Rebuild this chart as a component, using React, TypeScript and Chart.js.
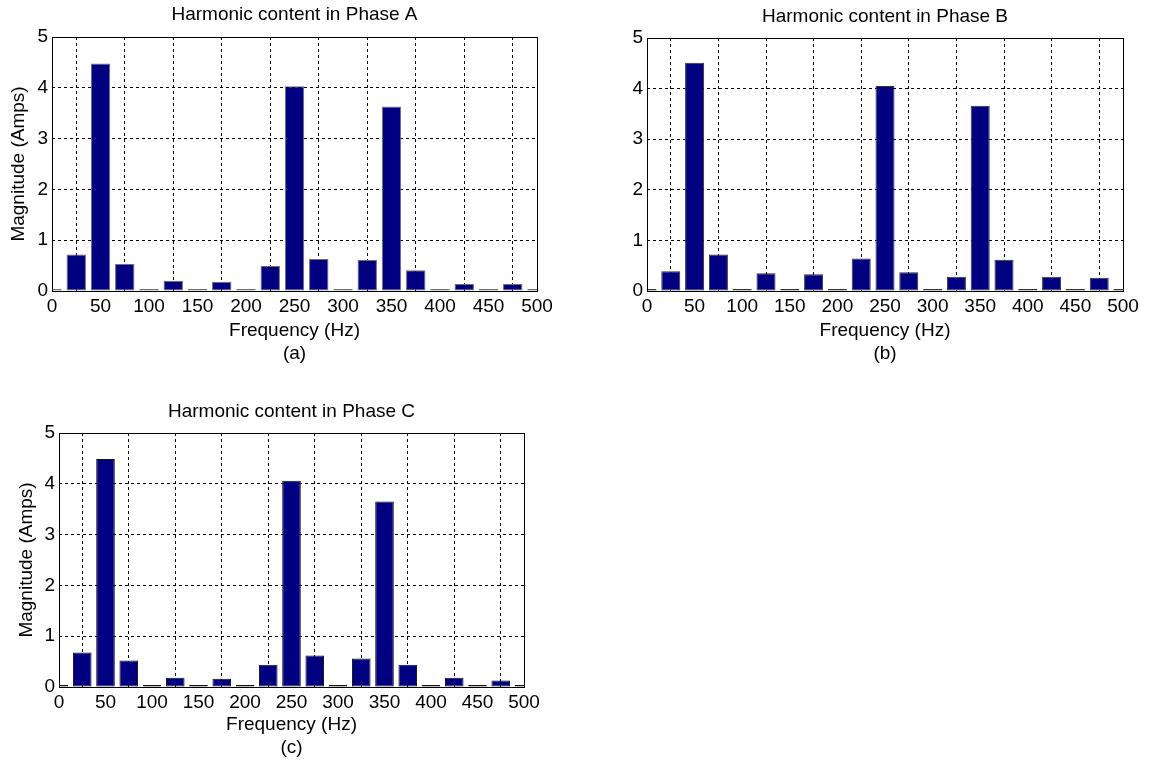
import React, { useEffect, useRef } from 'react';
import { Chart, registerables } from 'chart.js';

Chart.register(...registerables);

// ---- Data ----
const frequencies = [0, 25, 50, 75, 100, 125, 150, 175, 200, 225, 250, 275, 300, 325, 350, 375, 400, 425, 450, 475, 500];
const phaseA = [0.01, 0.72, 4.48, 0.53, 0.01, 0.2, 0.01, 0.18, 0.01, 0.49, 4.03, 0.63, 0.01, 0.61, 3.63, 0.41, 0.01, 0.14, 0.01, 0.14, 0.01];
const phaseB = [0.01, 0.39, 4.51, 0.72, 0.01, 0.35, 0.01, 0.33, 0.01, 0.64, 4.05, 0.37, 0.01, 0.28, 3.66, 0.62, 0.01, 0.28, 0.01, 0.26, 0.01];
const phaseC = [0.01, 0.68, 4.49, 0.52, 0.04, 0.18, 0.01, 0.16, 0.01, 0.44, 4.06, 0.62, 0.01, 0.56, 3.65, 0.44, 0.01, 0.18, 0.01, 0.13, 0.01];
const xTickValues = [0, 50, 100, 150, 200, 250, 300, 350, 400, 450, 500];
const yTickValues = [0, 1, 2, 3, 4, 5];
const titles = ['Harmonic content in Phase A', 'Harmonic content in Phase B', 'Harmonic content in Phase C'];
const captions = ['(a)', '(b)', '(c)'];
const xAxisTitle = 'Frequency (Hz)';
const yAxisTitle = 'Magnitude (Amps)';

const FONT = "'Liberation Sans', Arial, Helvetica, sans-serif";

type PanelCfg = {
  values: number[];
  title: string;
  caption: string;
  cx: number; cy: number; cw: number; ch: number; // canvas rect on page
  pl: number; pt: number; pr: number; pb: number; // plot rect on page
  titleCenter: number; // page y of title center
  captionCenter: number; // page y of caption center
  yTitleCenter: number; // page x of y-title center
  barBorder: string;
};

const panels: PanelCfg[] = [
  { values: phaseA, title: titles[0], caption: captions[0], cx: 0, cy: 0, cw: 580, ch: 375, pl: 52, pt: 37, pr: 537, pb: 291, titleCenter: 15, captionCenter: 353.5, yTitleCenter: 19, barBorder: '#6f6f6f' },
  { values: phaseB, title: titles[1], caption: captions[1], cx: 590, cy: 0, cw: 560, ch: 375, pl: 647, pt: 38, pr: 1123, pb: 291, titleCenter: 17, captionCenter: 353.5, yTitleCenter: 23, barBorder: '#333333' },
  { values: phaseC, title: titles[2], caption: captions[2], cx: 0, cy: 395, cw: 580, ch: 370, pl: 59, pt: 433, pr: 524, pb: 687, titleCenter: 411.7, captionCenter: 748, yTitleCenter: 27, barBorder: '#111111' },
];

const align = (p: number) => Math.round(p - 0.5) + 0.5;

const boxPlugin = {
  id: 'plotBox',
  afterDatasetsDraw(chart: any) {
    const { ctx, chartArea: a } = chart;
    ctx.save();
    ctx.strokeStyle = '#000';
    ctx.lineWidth = 1;
    ctx.setLineDash([]);
    const l = align(a.left), r = align(a.right), t = align(a.top), b = align(a.bottom);
    ctx.strokeRect(l, t, r - l, b - t);
    ctx.restore();
  },
};

function Panel({ cfg }: { cfg: PanelCfg }) {
  const ref = useRef<HTMLCanvasElement | null>(null);
  useEffect(() => {
    if (!ref.current) return;
    const lh = 1.2;
    const fs = 19;
    const half = (fs * lh) / 2;
    const titleTop = cfg.titleCenter - cfg.cy - half;
    const titleBottom = cfg.pt - cfg.cy - titleTop - fs * lh;
    const xTitleBottomPad = cfg.cy + cfg.ch - cfg.captionCenter - half;
    const yTitlePad = cfg.yTitleCenter - cfg.cx - half;
    const chart = new Chart(ref.current, {
      type: 'bar',
      data: {
        datasets: [
          {
            data: frequencies.map((f, i) => ({ x: f, y: cfg.values[i] })),
            backgroundColor: '#000080',
            borderColor: cfg.barBorder,
            borderWidth: 1,
            borderSkipped: false,
            barPercentage: 0.8,
            categoryPercentage: 1,
            minBarLength: 2,
          } as any,
        ],
      },
      options: {
        responsive: false,
        animation: false,
        events: [],
        layout: { padding: { left: 0, top: 0, bottom: 0, right: cfg.cx + cfg.cw - cfg.pr } },
        plugins: {
          legend: { display: false },
          tooltip: { enabled: false },
          title: {
            display: true,
            text: cfg.title,
            fullSize: false,
            color: '#000',
            font: { family: FONT, size: fs, weight: 'normal', lineHeight: lh },
            padding: { top: titleTop, bottom: titleBottom },
          },
        },
        scales: {
          x: {
            type: 'linear',
            min: 0,
            max: 500,
            offset: false,
            afterBuildTicks: (s: any) => {
              s.ticks = xTickValues.map((v) => ({ value: v }));
            },
            afterFit: (s: any) => {
              s.height = cfg.cy + cfg.ch - cfg.pb;
            },
            grid: { color: '#000', lineWidth: 1, drawTicks: false, borderDash: [3, 3] } as any,
            border: { display: false, dash: [3, 3] },
            ticks: {
              color: '#000',
              padding: 4,
              maxRotation: 0,
              autoSkip: false,
              font: { family: FONT, size: fs },
            },
            title: {
              display: true,
              text: [xAxisTitle, cfg.caption],
              color: '#000',
              font: { family: FONT, size: fs, lineHeight: lh },
              padding: { top: 0, bottom: xTitleBottomPad },
            },
          },
          y: {
            type: 'linear',
            min: 0,
            max: 5,
            afterBuildTicks: (s: any) => {
              s.ticks = yTickValues.map((v) => ({ value: v }));
            },
            afterFit: (s: any) => {
              s.width = cfg.pl - cfg.cx;
            },
            grid: { color: '#000', lineWidth: 1, drawTicks: false, borderDash: [3, 3] } as any,
            border: { display: false, dash: [3, 3] },
            ticks: {
              color: '#000',
              padding: 4,
              autoSkip: false,
              font: { family: FONT, size: fs },
            },
            title: {
              display: true,
              text: yAxisTitle,
              color: '#000',
              font: { family: FONT, size: fs, lineHeight: lh },
              padding: { top: yTitlePad, bottom: 0 },
            },
          },
        },
      } as any,
      plugins: [boxPlugin],
    });
    return () => chart.destroy();
  }, [cfg]);
  return (
    <canvas
      ref={ref}
      width={cfg.cw}
      height={cfg.ch}
      style={{ position: 'absolute', left: cfg.cx, top: cfg.cy, width: cfg.cw, height: cfg.ch }}
    />
  );
}

export default function App() {
  return (
    <div style={{ position: 'absolute', left: 0, top: 0, width: 1150, height: 765, background: '#fff', overflow: 'hidden' }}>
      {panels.map((p, i) => (
        <Panel key={i} cfg={p} />
      ))}
    </div>
  );
}
